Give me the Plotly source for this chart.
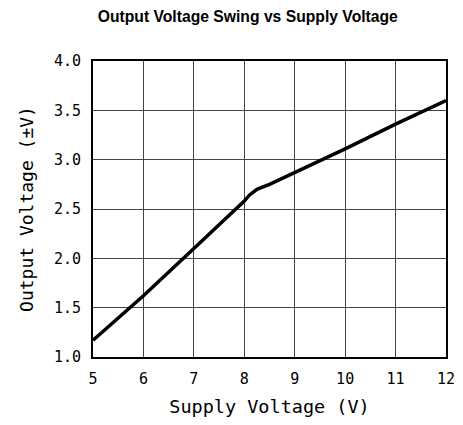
import plotly.graph_objects as go

# supply voltage (V) vs output swing (±V)
supply_v = [5.0, 6.0, 7.0, 7.8, 8.0, 8.1, 8.25, 8.5, 9.0, 10.0, 11.0, 12.0]
output_v = [1.17, 1.62, 2.10, 2.48, 2.58, 2.64, 2.70, 2.75, 2.87, 3.11, 3.36, 3.60]

x_ticks = [5, 6, 7, 8, 9, 10, 11, 12]
y_ticks = [1.0, 1.5, 2.0, 2.5, 3.0, 3.5, 4.0]

AXIS_FONT = "DejaVu Sans Mono"

fig = go.Figure()
fig.add_trace(go.Scatter(
    x=supply_v, y=output_v, mode="lines",
    line=dict(color="black", width=3.5),
    showlegend=False,
))

# page body adds an 8px margin all round; keep the figure inside the window
# (right margin leaves room for the "12" label)
fig.update_layout(
    width=455, height=409,
    paper_bgcolor="white", plot_bgcolor="white",
    margin=dict(l=85, r=17, t=53, b=60),
    title=dict(
        text="<b>Output Voltage Swing vs Supply Voltage</b>",
        font=dict(family="Liberation Sans", size=15.7, color="black"),
        x=0.527, xanchor="center", y=0.98, yanchor="middle",
    ),
)
fig.update_xaxes(
    range=[5, 12], tickvals=x_ticks, ticktext=[str(v) for v in x_ticks],
    showgrid=True, gridcolor="#444", gridwidth=1,
    showline=True, linecolor="black", linewidth=2, mirror=True,
    ticks="", zeroline=False, automargin=False,
    ticklabelstandoff=7, ticklabeloverflow="allow",
    tickfont=dict(family=AXIS_FONT, size=15, color="black"),
    title=dict(text="Supply Voltage (V)", standoff=16,
               font=dict(family=AXIS_FONT, size=18.5, color="black")),
)
fig.update_yaxes(
    range=[1, 4], tickvals=y_ticks, ticktext=[f"{v:.1f}" for v in y_ticks],
    showgrid=True, gridcolor="#444", gridwidth=1,
    showline=True, linecolor="black", linewidth=2, mirror=True,
    ticks="", zeroline=False, automargin=False, ticklabelstandoff=7,
    tickfont=dict(family=AXIS_FONT, size=15, color="black"),
    title=dict(text="Output Voltage (±V)", standoff=16,
               font=dict(family=AXIS_FONT, size=18, color="black")),
)

fig.write_html("out.html")
